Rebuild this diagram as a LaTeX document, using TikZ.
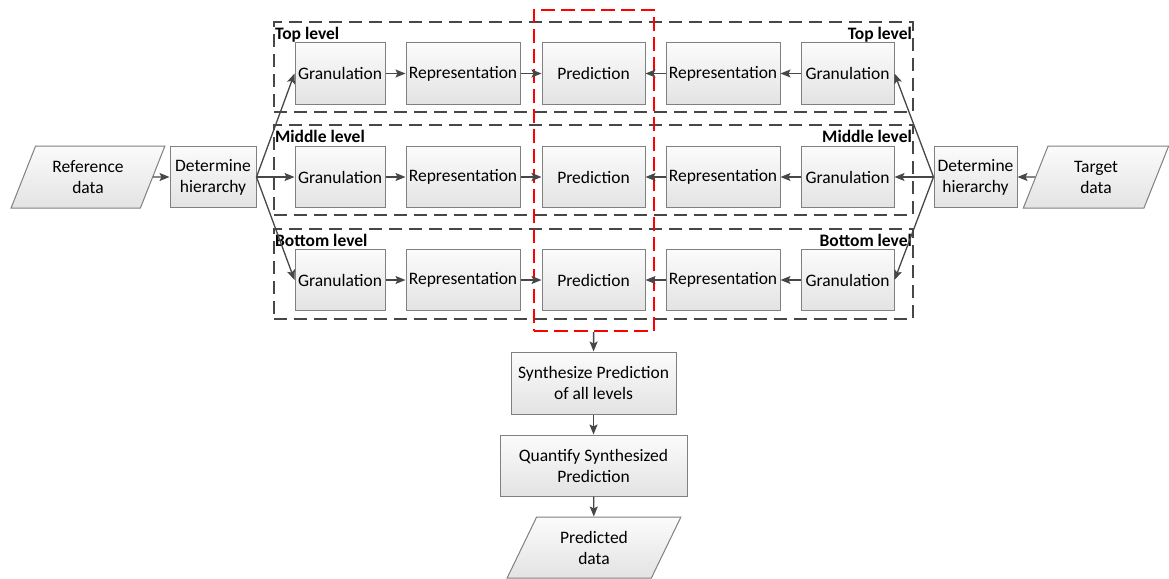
\documentclass[tikz,border=0pt]{standalone}
\usepackage{fontspec}
\setmainfont{Carlito}
\usetikzlibrary{shapes.geometric,arrows.meta,positioning}

\begin{document}
\begin{tikzpicture}[x=1pt, y=-1pt, font=\fontsize{17.5}{21}\selectfont,
    every node/.style={align=center, inner sep=1pt},
    procbox/.style={draw=black!50, line width=1pt, top color=gray!3, bottom color=gray!22, minimum height=61pt},
    databox/.style={trapezium, draw=black!50, line width=1pt, top color=gray!3, bottom color=gray!22, minimum height=62pt, trapezium stretches=true},
    levelbox/.style={draw=black!72, line width=2.2pt, dash pattern=on 13pt off 7pt, minimum width=639pt, minimum height=90pt},
    lvllabel/.style={font=\fontsize{17.5}{21}\selectfont\bfseries, inner sep=2pt, yshift=-4pt},
    link/.style={draw=black!72, line width=1.3pt, -{Stealth[length=10pt,width=8pt,inset=2pt]}}]
    \useasboundingbox (0,0) rectangle (1169,578);

    % level frames
    \node[levelbox] (lvltop) at (593.5,67) {};
    \node[levelbox] (lvlmid) at (593.5,170) {};
    \node[levelbox] (lvlbot) at (593.5,274) {};
    \node[lvllabel, anchor=north west] at (lvltop.north west) {Top level};
    \node[lvllabel, anchor=north east] at (lvltop.north east) {Top level};
    \node[lvllabel, anchor=north west] at (lvlmid.north west) {Middle level};
    \node[lvllabel, anchor=north east] at (lvlmid.north east) {Middle level};
    \node[lvllabel, anchor=north west] at (lvlbot.north west) {Bottom level};
    \node[lvllabel, anchor=north east] at (lvlbot.north east) {Bottom level};

    % prediction frame
    \node[draw=red, line width=2.2pt, dash pattern=on 14pt off 6pt, minimum width=120pt, minimum height=321pt] (predbox) at (594,170.5) {};

    % inputs
    \node[databox, trapezium left angle=64, trapezium right angle=116, minimum width=154pt] (refdata) at (88,177) {Reference\\data};
    \node[procbox, minimum width=86pt] (dethierL) at (213,177) {Determine\\hierarchy};
    \node[procbox, minimum width=83pt] (dethierR) at (975.5,177) {Determine\\hierarchy};
    \node[databox, trapezium left angle=71, trapezium right angle=109, minimum width=146pt] (tgtdata) at (1096,177) {Target\\data};

    % top row
    \node[procbox, minimum width=90pt] (granLtop) at (340,73.5) {Granulation};
    \node[procbox, minimum width=114pt] (repLtop) at (463,73.5) {Representation};
    \node[procbox, minimum width=103pt] (predtop) at (593.5,73.5) {Prediction};
    \node[procbox, minimum width=114pt] (repRtop) at (723,73.5) {Representation};
    \node[procbox, minimum width=93pt] (granRtop) at (847.5,73.5) {Granulation};

    % middle row
    \node[procbox, minimum width=90pt] (granLmid) at (340,177) {Granulation};
    \node[procbox, minimum width=114pt] (repLmid) at (463,177) {Representation};
    \node[procbox, minimum width=103pt] (predmid) at (593.5,177) {Prediction};
    \node[procbox, minimum width=114pt] (repRmid) at (723,177) {Representation};
    \node[procbox, minimum width=93pt] (granRmid) at (847.5,177) {Granulation};

    % bottom row
    \node[procbox, minimum width=90pt] (granLbot) at (340,280) {Granulation};
    \node[procbox, minimum width=114pt] (repLbot) at (463,280) {Representation};
    \node[procbox, minimum width=103pt] (predbot) at (593.5,280) {Prediction};
    \node[procbox, minimum width=114pt] (repRbot) at (723,280) {Representation};
    \node[procbox, minimum width=93pt] (granRbot) at (847.5,280) {Granulation};

    % output chain
    \node[procbox, minimum width=165pt, minimum height=62pt] (synth) at (593.5,383) {Synthesize Prediction\\of all levels};
    \node[procbox, minimum width=187pt] (quant) at (593.5,465.5) {Quantify Synthesized\\Prediction};
    \node[databox, trapezium left angle=63, trapezium right angle=117, minimum width=174pt, minimum height=61pt] (preddata) at (594,547.5) {Predicted\\data};

    \draw[link] (refdata) -- (dethierL);
    \draw[link] (dethierL.east) -- (granLtop.west);
    \draw[link] (dethierL.east) -- (granLmid.west);
    \draw[link] (dethierL.east) -- (granLbot.west);
    \draw[link] (tgtdata) -- (dethierR);
    \draw[link] (dethierR.west) -- (granRtop.east);
    \draw[link] (dethierR.west) -- (granRmid.east);
    \draw[link] (dethierR.west) -- (granRbot.east);

    \draw[link] (granLtop) -- (repLtop);
    \draw[link] (repLtop) -- (predtop);
    \draw[link] (granRtop) -- (repRtop);
    \draw[link] (repRtop) -- (predtop);
    \draw[link] (granLmid) -- (repLmid);
    \draw[link] (repLmid) -- (predmid);
    \draw[link] (granRmid) -- (repRmid);
    \draw[link] (repRmid) -- (predmid);
    \draw[link] (granLbot) -- (repLbot);
    \draw[link] (repLbot) -- (predbot);
    \draw[link] (granRbot) -- (repRbot);
    \draw[link] (repRbot) -- (predbot);

    \draw[link] (predbox) -- (synth);
    \draw[link] (synth) -- (quant);
    \draw[link] (quant) -- (preddata);
\end{tikzpicture}
\end{document}
